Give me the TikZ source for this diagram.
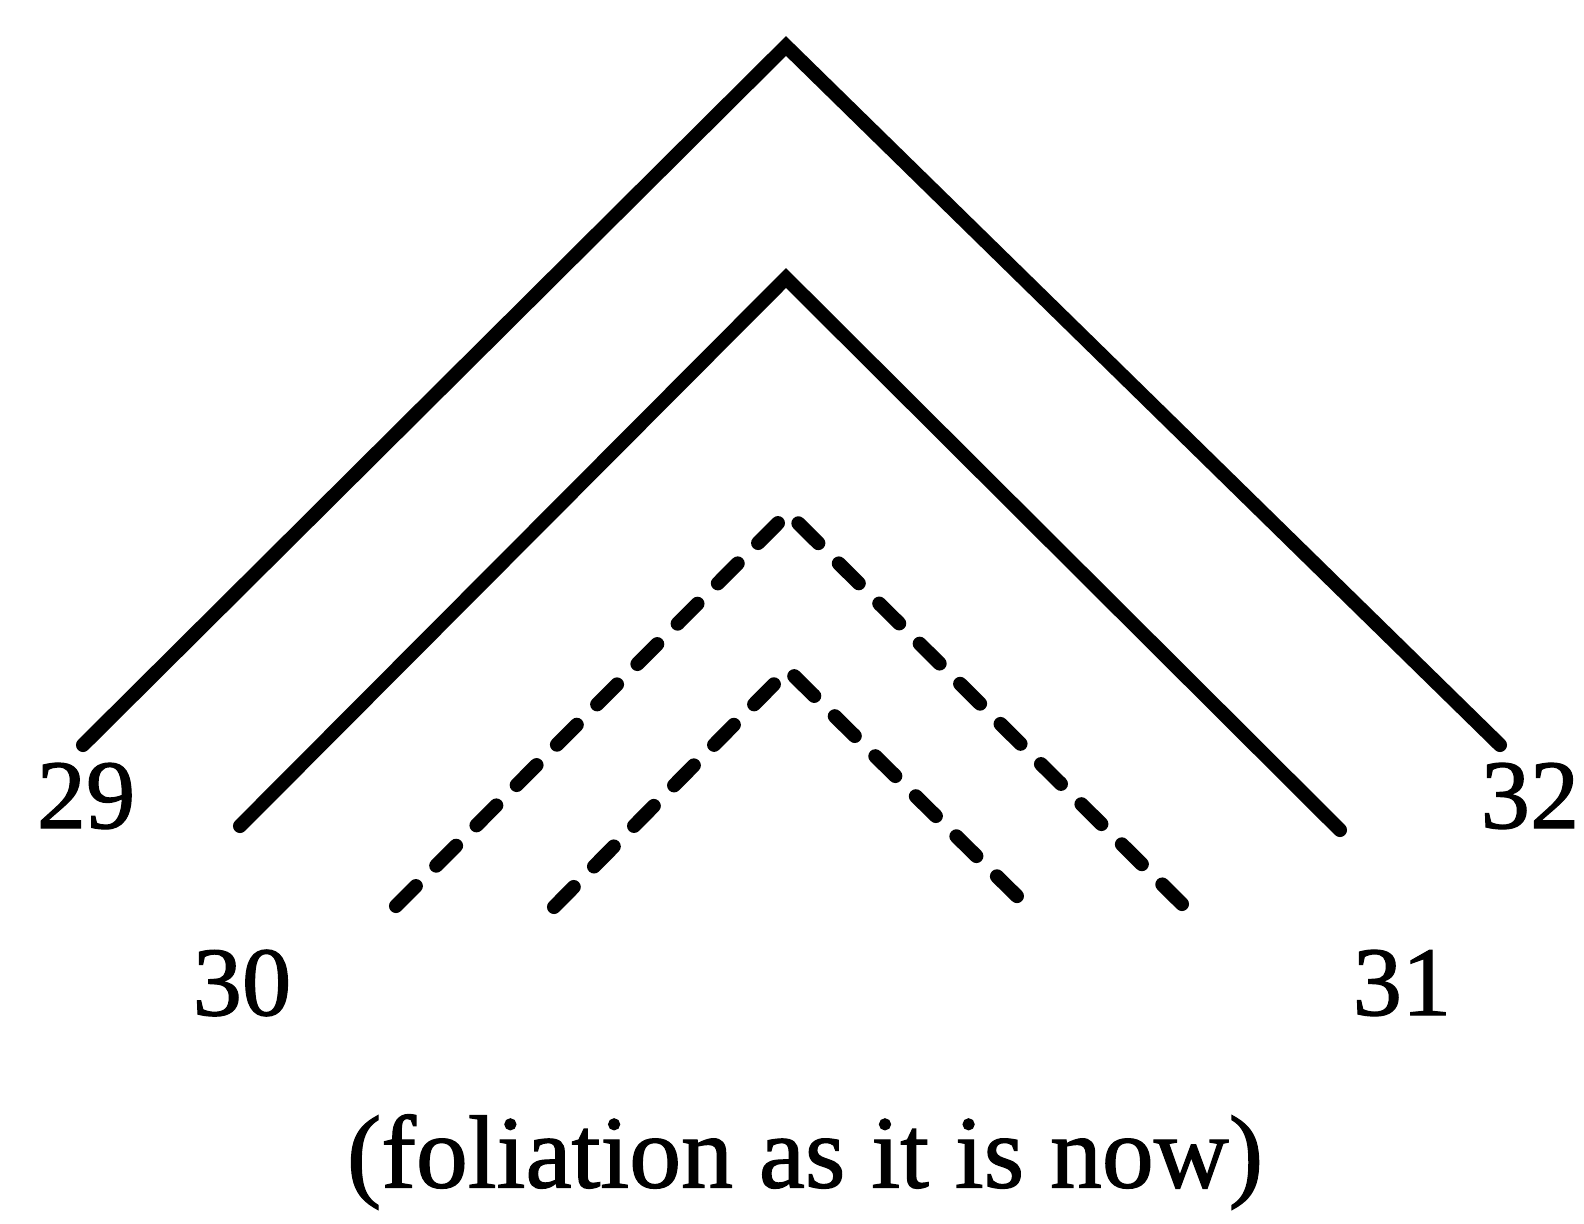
\documentclass[tikz,border=0pt]{standalone}
\usepackage{fontspec}
\setmainfont{Liberation Serif}[FakeBold=1.2]
\tikzset{
  leaf/.style={line width=4pt, line cap=round, line join=miter},
  leafdash/.style={leaf, dash pattern=on 8pt off 8.2pt},
  num/.style={font=\fontsize{28}{32}\selectfont, inner sep=0pt},
}
\begin{document}
\begin{tikzpicture}[x=0.01cm, y=-0.01cm]
  \useasboundingbox (0,0) rectangle (1584,1223);
  % Solid leaves
  \coordinate (a1) at (83,745);
  \coordinate (a2) at (786,46);
  \coordinate (a3) at (1500,745);
  \coordinate (b1) at (240,826);
  \coordinate (b2) at (786,278);
  \coordinate (b3) at (1340,830);
  \draw[leaf] (a1) -- (a2) -- (a3);
  \draw[leaf] (b1) -- (b2) -- (b3);
  % Dashed leaves
  \coordinate (c1) at (396,906);
  \coordinate (c2) at (788,513);
  \coordinate (c3) at (1182,904);
  \coordinate (d1) at (554,907);
  \coordinate (d2) at (788,670);
  \coordinate (d3) at (1026,905);
  \draw[leafdash] (c1) -- (c2) -- (c3);
  \draw[leafdash] (d1) -- (d2) -- (d3);
  % Labels
  \node[num] (n29) at (86,796) {29};
  \node[num] (n30) at (242,983) {30};
  \node[num] (n31) at (1402,983) {31};
  \node[num] (n32) at (1530,796) {32};
  \node[num, font=\fontsize{29.5}{34}\selectfont] (cap) at (805,1162) {(foliation as it is now)};
\end{tikzpicture}
\end{document}
